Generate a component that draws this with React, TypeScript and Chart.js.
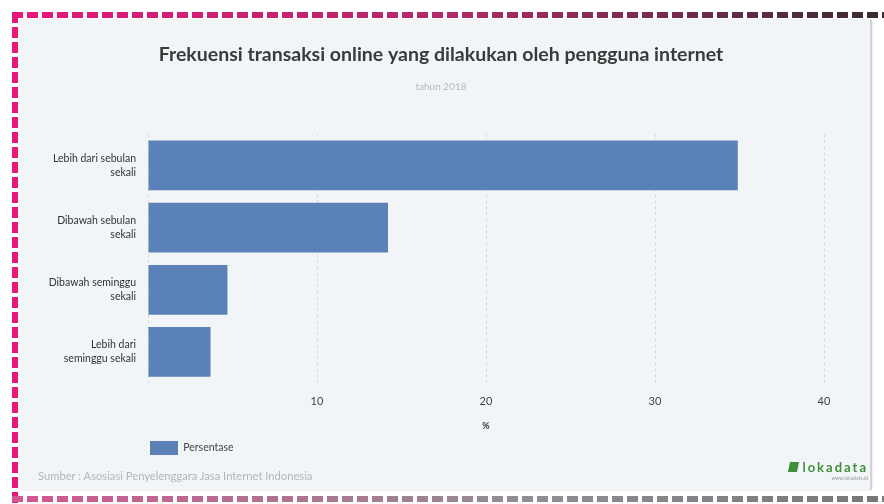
import React, { useEffect, useRef } from "react";
import { Chart, registerables } from "chart.js";

Chart.register(...registerables);

const categories: string[][] = [
  ["Lebih dari sebulan", "sekali"],
  ["Dibawah sebulan", "sekali"],
  ["Dibawah seminggu", "sekali"],
  ["Lebih dari", "seminggu sekali"],
];
const values: number[] = [34.9, 14.2, 4.7, 3.7];
const seriesName = "Persentase";
const titleText = "Frekuensi transaksi online yang dilakukan oleh pengguna internet";
const subtitleText = "tahun 2018";
const axisTitle = "%";
const sourceText = "Sumber : Asosiasi Penyelenggara Jasa Internet Indonesia";
const xMax = 40;
const xStep = 10;

export default function App() {
  const ref = useRef<HTMLCanvasElement | null>(null);

  useEffect(() => {
    if (!ref.current) return;
    const chart = new Chart(ref.current, {
      type: "bar",
      data: {
        labels: categories,
        datasets: [
          {
            label: seriesName,
            data: values,
            backgroundColor: "#5b82b6",
            borderWidth: 0,
            categoryPercentage: 0.8,
            barPercentage: 1,
          },
        ],
      },
      options: {
        indexAxis: "y",
        animation: false,
        responsive: false,
        maintainAspectRatio: false,
        layout: { padding: { left: 18, right: 46, top: 0, bottom: 25 } },
        plugins: {
          title: {
            display: true,
            text: titleText,
            color: "#3a3a3a",
            font: { family: "Lato", size: 19.5, weight: "bold" },
            padding: { top: 23, bottom: 14 },
          },
          subtitle: {
            display: true,
            text: subtitleText,
            color: "#b8b8b8",
            font: { family: "Lato", size: 10 },
            padding: { top: 0, bottom: 42 },
          },
          legend: {
            display: true,
            position: "bottom",
            align: "start",
            labels: {
              boxWidth: 28,
              boxHeight: 14,
              padding: 10,
              color: "#444",
              font: { family: "Lato", size: 10.5 },
            },
          },
          tooltip: { enabled: false },
        },
        scales: {
          x: {
            min: 0,
            max: xMax,
            afterFit: (s: any) => {
              s.height = 48;
            },
            ticks: {
              stepSize: xStep,
              color: "#444",
              font: { family: "Lato", size: 11 },
              padding: 4,
              callback: (v: any) => (v === 0 ? "" : String(v)),
            },
            grid: {
              color: "#d8d8d8",
              drawTicks: true,
              tickLength: 8,
              tickColor: "rgba(0,0,0,0)",
            },
            border: { display: false, dash: [3, 3] },
            title: {
              display: true,
              text: axisTitle,
              color: "#333",
              font: { family: "Lato", size: 9, weight: "bold" },
              padding: { top: 0, bottom: 0 },
            },
          },
          y: {
            afterFit: (s: any) => {
              s.width = 110;
            },
            ticks: {
              color: "#333",
              font: { family: "Lato", size: 10.5, lineHeight: 1.3 },
              padding: 4,
            },
            grid: { display: false },
            border: { display: false },
          },
        },
      } as any,
      plugins: [
        {
          id: "boxShift",
          afterLayout(c: any) {
            for (const b of c.boxes) {
              if (b.axis) continue;
              if (b.position === "top") {
                b.left += 10;
                b.right += 10;
              } else if (b.position === "bottom") {
                const w = b.width;
                b.left = 120;
                b.right = 120 + w;
              }
            }
          },
        },
      ],
    });
    return () => chart.destroy();
  }, []);

  const dashMask = (dir: string, on: number, period: number) =>
    `repeating-linear-gradient(${dir}, transparent 0 ${on}px, #fff ${on}px ${period}px)`;

  return (
    <div style={{ position: "fixed", left: 0, top: 0, width: 884, height: 504, background: "#fff", overflow: "hidden" }}>
      <div
        style={{
          position: "absolute",
          left: 12,
          top: 12,
          width: 872,
          height: 6,
          background: `${dashMask("90deg", 11, 15)}, linear-gradient(90deg, #e8177a 0%, #b12a6a 50%, #3a2b33 100%)`,
        }}
      />
      <div
        style={{
          position: "absolute",
          left: 12,
          top: 12,
          width: 6,
          height: 492,
          background: `${dashMask("180deg", 11, 15)}, #e8177a`,
        }}
      />
      <div
        style={{
          position: "absolute",
          left: 12,
          top: 496,
          width: 872,
          height: 6,
          background: `${dashMask("90deg", 11, 15)}, linear-gradient(90deg, #d3558e 0%, #8e8f96 60%, #777 100%)`,
        }}
      />
      <div
        style={{
          position: "absolute",
          left: 20,
          top: 20,
          width: 850,
          height: 470,
          background: "#f2f5f8",
          borderRight: "2px solid #cfd3d8",
          boxShadow: "0 0 2px rgba(0,0,0,0.15)",
        }}
      >
        <canvas ref={ref} width={850} height={470} style={{ position: "absolute", left: 0, top: 0, width: 850, height: 470 }} />
        <div
          style={{
            position: "absolute",
            left: 18,
            top: 449,
            fontFamily: "Lato",
            fontSize: 11.2,
            color: "#b5b5b5",
          }}
        >
          {sourceText}
        </div>
        <div
          style={{
            position: "absolute",
            right: 2,
            top: 441,
            fontFamily: "Lato",
            textAlign: "right",
            lineHeight: 1,
          }}
        >
          <div style={{ fontSize: 13, color: "#3f8f3a", letterSpacing: 2, fontWeight: "bold" }}>
            <span style={{ display: "inline-block", width: 9, height: 10, background: "#3f8f3a", transform: "skewX(-12deg)", marginRight: 4 }} />
            lokadata
          </div>
          <div style={{ fontSize: 5, color: "#999", marginTop: 2 }}>www.lokadata.id</div>
        </div>
      </div>
    </div>
  );
}
